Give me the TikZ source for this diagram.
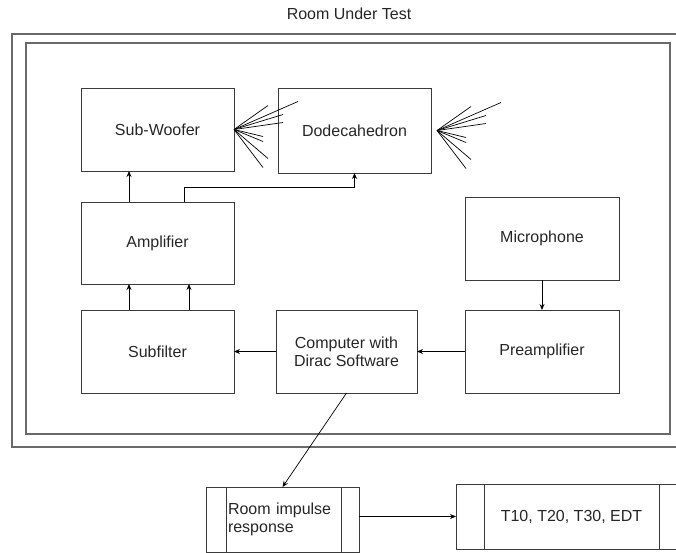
\documentclass[tikz,border=0pt]{standalone}
\usepackage{fontspec}
\setmainfont{Liberation Sans}
\usepackage{tikz}
\usetikzlibrary{arrows.meta,calc,positioning}
\definecolor{framegray}{HTML}{6A6A6A}
\definecolor{boxgray}{HTML}{3A3A3A}
\tikzset{%
	frame/.style   = {draw=framegray, line width=1.3pt},
	block/.style   = {draw=boxgray, line width=1pt, rectangle, outer sep=0pt, inner sep=0pt, text centered, text=black!85, font=\fontsize{16}{18}\selectfont},
	procbox/.style = {block, minimum height=65pt},
	arrow/.style   = {line width=0.9pt, -{Stealth[length=6pt,width=5pt]}},
	ray/.style     = {line width=0.7pt},
}

\begin{document}
\begin{tikzpicture}[x=1pt,y=-1pt]
	\path[use as bounding box] (0,0) rectangle (676,552);
	\clip (0,0) rectangle (676,552);
	% room frames
	\node[font=\fontsize{16}{18}\selectfont, text=black!85] (title) at (349,14) {Room Under Test};
	\draw[frame] (12,34) rectangle (700,447);
	\draw[frame] (26,43) rectangle (670,434);
	% equipment inside the room
	\node[block, minimum width=153pt, minimum height=83pt] (woofer) at (157.5,129.5) {Sub-Woofer};
	\node[block, minimum width=153pt, minimum height=85pt] (dodec) at (354.5,130.5) {Dodecahedron};
	\node[block, minimum width=153pt, minimum height=82pt] (amp) at (157.5,243) {Amplifier};
	\node[block, minimum width=153pt, minimum height=83pt] (subf) at (157.5,351.5) {Subfilter};
	\node[block, minimum width=141pt, minimum height=83pt, align=center] (comp) at (346.5,351.5) {Computer with\\Dirac Software};
	\node[block, minimum width=154pt, minimum height=83pt] (mic) at (542,238.5) {Microphone};
	\node[block, minimum width=154pt, minimum height=83pt] (pre) at (542,351.5) {Preamplifier};
	% results outside the room
	\node[procbox, text width=109pt, inner xsep=22pt, align=left] (rir) at (282.5,519.5) {Room impulse\\response};
	\node[procbox, minimum width=231pt] (tten) at (571.5,516.5) {T10, T20, T30, EDT};
	\draw[boxgray, line width=1pt] ($(rir.north west)+(20,0)$) -- ($(rir.south west)+(20,0)$);
	\draw[boxgray, line width=1pt] ($(rir.north east)+(-18,0)$) -- ($(rir.south east)+(-18,0)$);
	\draw[boxgray, line width=1pt] ($(tten.north west)+(28,0)$) -- ($(tten.south west)+(28,0)$);
	\draw[boxgray, line width=1pt] ($(tten.north east)+(-28,0)$) -- ($(tten.south east)+(-28,0)$);
	% sound rays
	\coordinate (wooferout) at (woofer.east);
	\coordinate (dodecout) at ($(dodec.east)+(6,0)$);
	\foreach \dx/\dy in {64/-28,34/-24,49/-15,49/-7,29/7,29/12,34/29,29/38}{
		\draw[ray] (wooferout) -- ++(\dx,\dy);
		\draw[ray] (dodecout) -- ++(\dx,\dy);
	}
	% connections
	\draw[arrow] ($(amp.north west)+(48,0)$) -- ($(woofer.south west)+(48,0)$);
	\draw[arrow] ($(amp.north west)+(103,0)$) |- ++(0,-15) -| (dodec.south);
	\draw[arrow] ($(subf.north west)+(48,0)$) -- ($(amp.south west)+(48,0)$);
	\draw[arrow] ($(subf.north west)+(108,0)$) -- ($(amp.south west)+(108,0)$);
	\draw[arrow] (mic.south) -- (pre.north);
	\draw[arrow] (pre.west) -- (comp.east);
	\draw[arrow] (comp.west) -- (subf.east);
	\draw[arrow, line width=0.7pt] (comp.south) -- (rir.north);
	\draw[arrow] (rir.east |- tten.west) -- (tten.west);
\end{tikzpicture}
\end{document}
